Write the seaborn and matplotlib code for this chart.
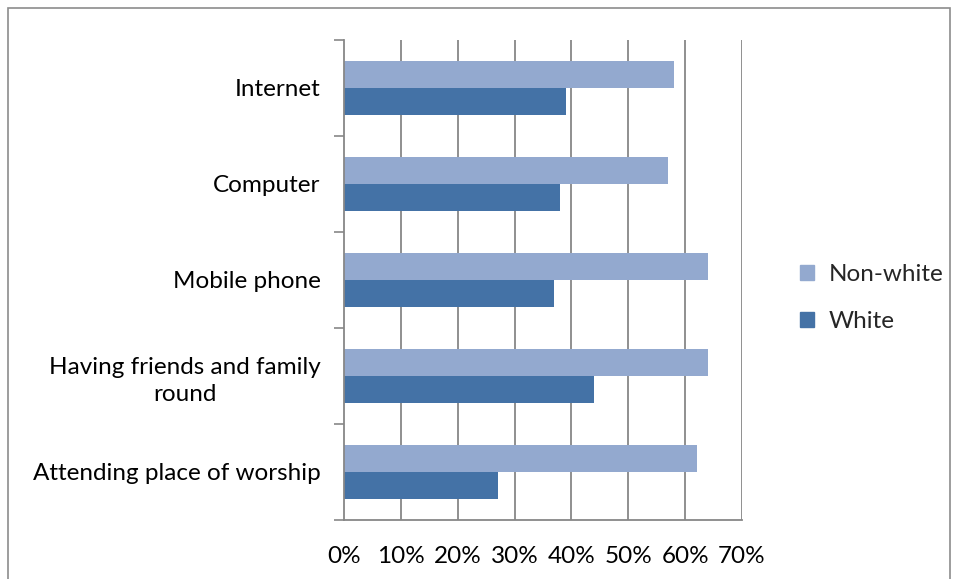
import matplotlib
matplotlib.use("Agg")
import matplotlib.pyplot as plt
import matplotlib.patches as mpatches
import seaborn as sns
import pandas as pd

categories = ["Internet", "Computer", "Mobile phone",
              "Having friends and family\nround", "Attending place of worship"]
non_white = [58, 57, 64, 64, 62]
white = [39, 38, 37, 44, 27]
series = ["Non-white", "White"]
colors = ["#93A9CF", "#4472A6"]
xticks = [0, 10, 20, 30, 40, 50, 60, 70]

df = pd.DataFrame({
    "category": categories * 2,
    "group": [series[0]] * len(categories) + [series[1]] * len(categories),
    "value": non_white + white,
})

sns.set_theme(style="white")
plt.rcParams["font.family"] = ["Lato", "DejaVu Sans"]
FS = 17.5

fig = plt.figure(figsize=(9.58, 5.79), dpi=100)
ax = fig.add_axes([344 / 958, 1 - 520 / 579, 398 / 958, 480 / 579])

sns.barplot(data=df, y="category", x="value", hue="group", order=categories,
            hue_order=series, palette=colors, orient="h", width=0.5625,
            saturation=1, ax=ax, legend=False, edgecolor="none")

ax.set_xlim(0, 70)
ax.set_ylim(len(categories) - 0.5, -0.5)
ax.set_xticks(xticks)
ax.set_xticklabels([f"{t}%" for t in xticks], fontsize=FS, color="black")
ax.set_xlabel("")
ax.set_ylabel("")
ax.tick_params(axis="y", length=0, labelsize=FS, labelcolor="black", pad=17)
ax.tick_params(axis="x", length=0, pad=19)
for lbl in ax.get_yticklabels():
    lbl.set_multialignment("center")
    lbl.set_linespacing(1.35)

# gridlines
for t in xticks[1:]:
    ax.axvline(t, color="#878787", lw=1.3, zorder=0)
for s in ["top", "right"]:
    ax.spines[s].set_visible(False)
for s in ["left", "bottom"]:
    ax.spines[s].set_color("#878787")
    ax.spines[s].set_linewidth(1.3)

# tick marks at category boundaries and x ticks
ax.set_yticks([i - 0.5 for i in range(len(categories) + 1)], minor=True)
ax.tick_params(axis="y", which="minor", length=7, width=1.2, color="#878787", left=True)
ax.set_xticks(xticks, minor=True)
ax.tick_params(axis="x", which="minor", length=7, width=1.2, color="#878787", bottom=True)

handles = [mpatches.Patch(color=c, label=s) for s, c in zip(series, colors)]
fig.legend(handles=handles, loc="center left", bbox_to_anchor=(778 / 958, 1 - 298 / 579),
           frameon=False, fontsize=FS, handlelength=0.58, handleheight=0.58,
           labelspacing=1.08, handletextpad=0.6)

# outer border
fig.patches.append(mpatches.Rectangle((8 / 958, -0.01), 942 / 958, 1 - 8 / 579 + 0.01,
                                      transform=fig.transFigure, fill=False,
                                      edgecolor="#8c8c8c", lw=1.2))

fig.savefig("out.png", dpi=100)
